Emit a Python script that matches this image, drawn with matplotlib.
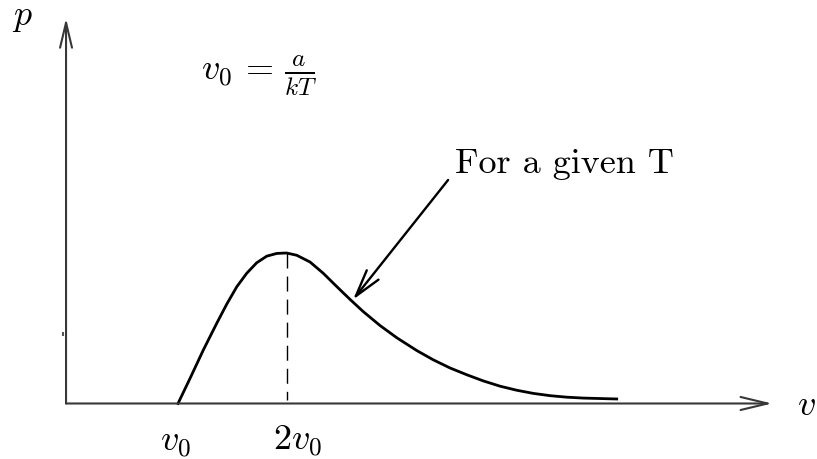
import numpy as np
import matplotlib
matplotlib.use("Agg")
import matplotlib.pyplot as plt

plt.rcParams['mathtext.fontset'] = 'cm'

# curve (v in units of v0, p relative to the peak)
v = [1.0, 1.111, 1.233, 1.357, 1.449, 1.541, 1.633, 1.725, 1.818, 1.910,
     2.0, 2.094, 2.217, 2.339, 2.463, 2.585, 2.708, 2.862, 3.016, 3.200,
     3.353, 3.507, 3.661, 3.814, 3.968, 4.122, 4.275, 4.429, 4.582, 4.735,
     5.043]
p = [0.0, 0.167, 0.355, 0.533, 0.660, 0.775, 0.865, 0.935, 0.979, 0.997,
     1.0, 0.985, 0.940, 0.865, 0.777, 0.692, 0.610, 0.518, 0.437, 0.352,
     0.290, 0.236, 0.191, 0.150, 0.115, 0.088, 0.067, 0.052, 0.042, 0.036,
     0.030]

peak_v = 2.0
peak_p = 1.0
tick_v = [1.0, 2.0]
tick_labels = [r'$v_0$', r'$2v_0$']
formula = r'$v_0\, =\, \frac{a}{kT}$'
note = 'For a given T'

x_end = 6.475   # tip of v axis
y_end = 2.56    # tip of p axis

fig = plt.figure(figsize=(8.17, 4.59), dpi=100)
ax = fig.add_axes([0, 0, 1, 1])
ax.set_xlim(-0.6406, 6.889)
ax.set_ylim(-0.3688, 2.681)
ax.axis('off')

axcol = '#383838'
# axes with open arrow heads
ax.annotate('', xy=(x_end, 0), xytext=(-0.032, 0),
            arrowprops=dict(arrowstyle='->,head_length=1.95,head_width=0.47',
                            lw=1.5, color=axcol, shrinkA=0, shrinkB=0))
ax.annotate('', xy=(-0.032, y_end), xytext=(-0.032, 0),
            arrowprops=dict(arrowstyle='->,head_length=1.8,head_width=0.43',
                            lw=1.5, color=axcol, shrinkA=0, shrinkB=0))
# small leftover tick on p axis
ax.plot([-0.06], [0.46], marker='|', ms=3, mew=1.5, color='#555555')

# the curve
ax.plot(v, p, color='black', lw=2.0, solid_joinstyle='round')

# dashed line at the maximum
ax.plot([peak_v, peak_v], [peak_p, 0.02], color='black', lw=1.0,
        linestyle=(0, (10.8, 5.8)))

# annotation arrow
ax.annotate('', xy=(2.613, 0.690), xytext=(3.489, 1.485),
            arrowprops=dict(arrowstyle='->,head_length=1.95,head_width=0.54',
                            lw=1.7, color='black', shrinkA=0, shrinkB=0))
ax.text(3.553, 1.532, note, fontfamily='cmr10', fontsize=26,
        ha='left', va='baseline')

ax.text(1.21, 2.15, formula, fontsize=26, ha='left', va='baseline')

# axis labels
ax.text(-0.43, 2.515, r'$p$', fontsize=26, ha='center', va='baseline')
ax.text(6.79, -0.075, r'$v$', fontsize=26, ha='center', va='baseline')

# tick labels
label_dx = [-0.02, 0.1]
label_y = [-0.315, -0.31]
for tv, tl, dx, ly in zip(tick_v, tick_labels, label_dx, label_y):
    ax.text(tv + dx, ly, tl, fontsize=26, ha='center', va='baseline')

fig.savefig('out.png', dpi=100)
